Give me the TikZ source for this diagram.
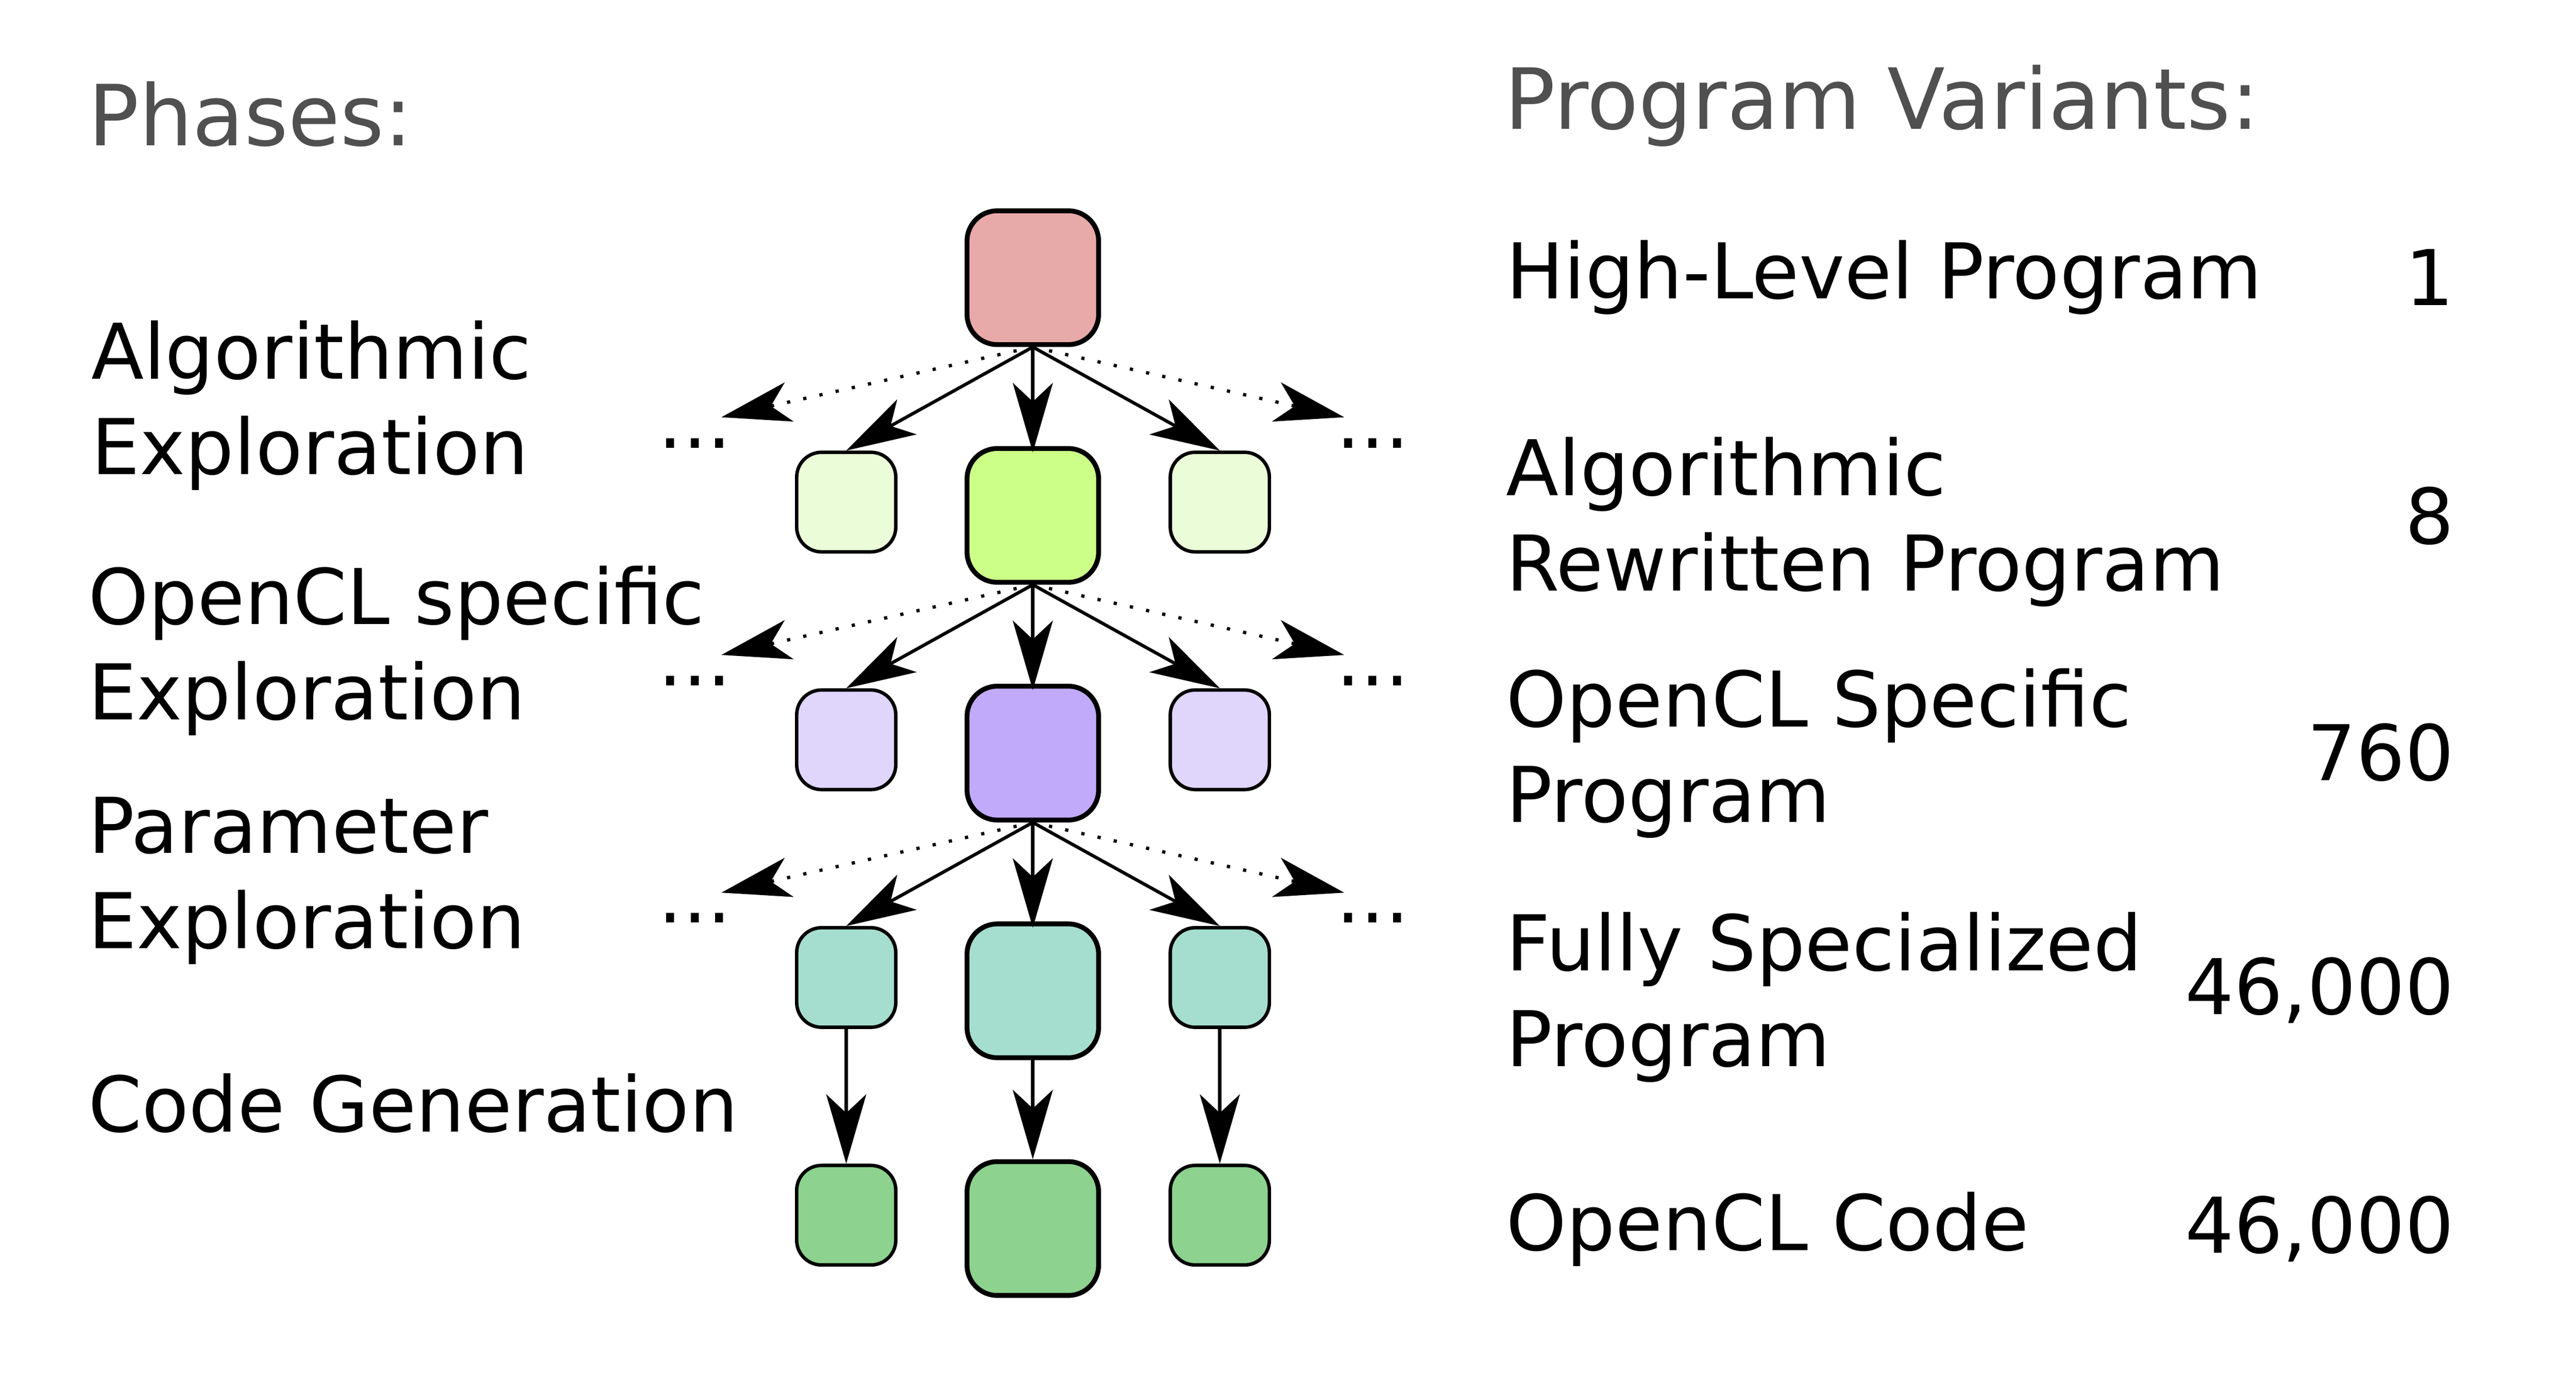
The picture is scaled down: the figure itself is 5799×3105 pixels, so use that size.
\documentclass[tikz,border=0pt]{standalone}
\usepackage{fontspec}
\setmainfont{DejaVu Sans}
\usetikzlibrary{arrows.meta}

\definecolor{rootred}{HTML}{E8A9A9}
\definecolor{algbig}{HTML}{CCFF88}
\definecolor{algsmall}{HTML}{EBFCD8}
\definecolor{oclbig}{HTML}{C2AAFA}
\definecolor{oclsmall}{HTML}{E0D5FB}
\definecolor{parcol}{HTML}{A5DECE}
\definecolor{gencol}{HTML}{8DD28E}
\definecolor{headgray}{HTML}{505050}

\tikzset{
	bigbox/.style={draw, line width=3.1pt, rounded corners=0.68cm, minimum width=2.96cm, minimum height=3.01cm, inner sep=0pt},
	smallbox/.style={draw, line width=2.2pt, rounded corners=0.56cm, minimum width=2.23cm, minimum height=2.24cm, inner sep=0pt},
	tree/.style={line width=2.1pt, -{Stealth[length=1.56cm, width=0.9cm, inset=0.42cm]}},
	more/.style={tree, dash pattern=on 0.073cm off 0.30cm},
	heading/.style={anchor=base west, inner sep=0pt, text=headgray, font=\fontsize{54}{64}\selectfont},
	phase/.style={anchor=base west, inner sep=0pt, align=left, font=\fontsize{49.2}{61.2}\selectfont},
	amount/.style={anchor=base east, inner sep=0pt, font=\fontsize{49.2}{61.2}\selectfont},
	dots/.style={anchor=base west, inner sep=0pt, text height=0.22cm, text depth=0pt, font=\fontsize{49.2}{61.2}\selectfont}
}

\begin{document}
\begin{tikzpicture}[x=0.01cm, y=-0.01cm]
	\useasboundingbox (0,0) rectangle (5799,3105);
	
	% phases (base = last line)
	\node[heading] (phases) at (198,328) {Phases:};
	\node[phase] (algphase) at (205,1068) {Algorithmic\\Exploration};
	\node[phase] (oclphase) at (198,1620) {OpenCL specific\\Exploration};
	\node[phase] (parphase) at (198,2135) {Parameter\\Exploration};
	\node[phase] (genphase) at (198,2547) {Code Generation};
	
	% tree of program variants
	\node[bigbox, fill=rootred] (m0) at (2325,625) {};
	\foreach \i/\y/\cbig/\csmall in {1/1160/algbig/algsmall, 2/1695/oclbig/oclsmall, 3/2230/parcol/parcol, 4/2765/gencol/gencol}
	{
		\node[bigbox, fill=\cbig] (m\i) at (2325,\y) {};
		\node[smallbox, fill=\csmall] (l\i) at (1905,\y-30) {};
		\node[smallbox, fill=\csmall] (r\i) at (2746,\y-30) {};
	}
	
	\foreach \i/\j/\d in {0/1/1008, 1/2/1543, 2/3/2077}
	{
		\coordinate (ml\i) at ([shift={(-701,158)}]m\i.south);
		\coordinate (mr\i) at ([shift={(701,158)}]m\i.south);
		\draw[more] (m\i.south) -- (ml\i);
		\draw[more] (m\i.south) -- (mr\i);
		\draw[tree] (m\i.south) -- (l\j.north);
		\draw[tree, shorten >=-0.14cm] (m\i.south) -- (m\j.north);
		\draw[tree] (m\i.south) -- (r\j.north);
		\node[dots] (dl\j) at (1481,\d) {...};
		\node[dots] (dr\j) at (3007,\d) {...};
	}
	
	\foreach \c in {l,m,r}
	{
		\draw[tree] (\c3.south) -- (\c4.north);
	}
	
	% program variants
	\node[heading] (variants) at (3387,291) {Program Variants:};
	\node[phase] (v0) at (3390,672) {High-Level Program};
	\node[phase] (v1) at (3390,1330) {Algorithmic\\Rewritten Program};
	\node[phase] (v2) at (3390,1851) {OpenCL Specific\\Program};
	\node[phase] (v3) at (3390,2400) {Fully Specialized\\Program};
	\node[phase] (v4) at (3390,2814) {OpenCL Code};
	
	\node[amount] (n0) at (5525,687) {1};
	\node[amount] (n1) at (5525,1224) {8};
	\node[amount] (n2) at (5525,1757) {760};
	\node[amount] (n3) at (5525,2283) {46,000};
	\node[amount] (n4) at (5525,2820) {46,000};
\end{tikzpicture}
\end{document}
